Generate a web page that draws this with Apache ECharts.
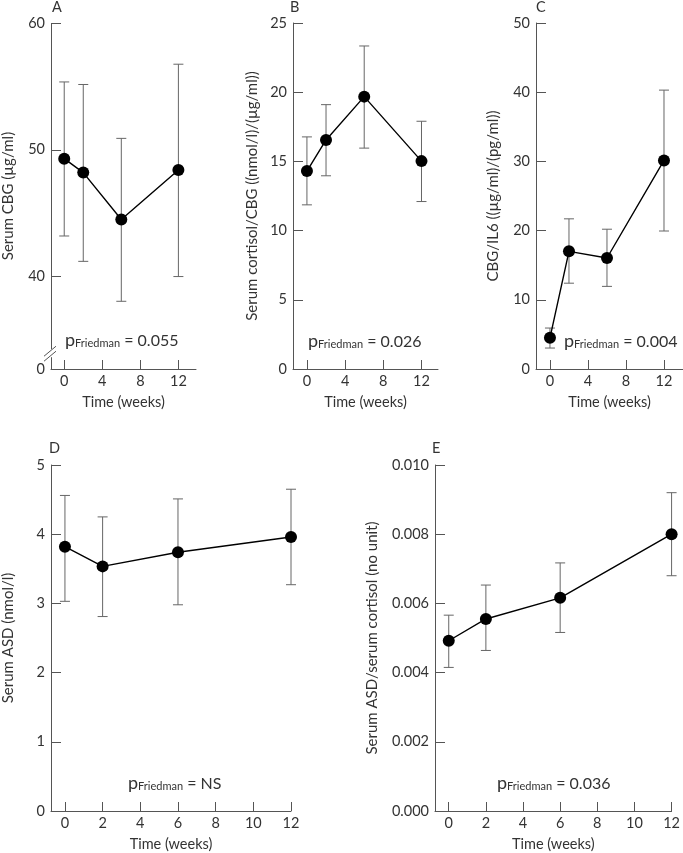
<!DOCTYPE html>
<html><head><meta charset="utf-8">
<script src="https://cdn.jsdelivr.net/npm/echarts@6/dist/echarts.min.js"></script>
<style>html,body{margin:0;padding:0;background:#fff}#c{width:683px;height:853px}</style>
</head><body><div id="c"></div>
<script>
// ---- data ----
const weeks = [0, 2, 6, 12];
const cbgMean  = [49.3, 48.2, 44.5, 48.4];
const cbgUpper = [55.35, 55.15, 50.9, 56.75];
const cbgLower = [43.2, 41.2, 38.05, 40.0];

const ratioMean  = [14.3, 16.55, 19.68, 15.02];
const ratioUpper = [16.77, 19.1, 23.34, 17.9];
const ratioLower = [11.86, 13.96, 15.96, 12.1];

const il6Mean  = [4.5, 17.0, 16.04, 30.14];
const il6Upper = [5.92, 21.7, 20.2, 40.3];
const il6Lower = [3.03, 12.4, 11.94, 19.94];

const asdMean  = [3.82, 3.535, 3.74, 3.96];
const asdUpper = [4.56, 4.25, 4.51, 4.65];
const asdLower = [3.03, 2.81, 2.98, 3.27];

const asdCortMean  = [0.00492, 0.00555, 0.00616, 0.0080];
const asdCortUpper = [0.00566, 0.00653, 0.00717, 0.0092];
const asdCortLower = [0.00415, 0.00464, 0.00516, 0.0068];

const xTicksTop = [0, 4, 8, 12];
const xTicksBottom = [0, 2, 4, 6, 8, 10, 12];
const yTicksA = [0, 40, 50, 60];
const yTicksB = [0, 5, 10, 15, 20, 25];
const yTicksC = [0, 10, 20, 30, 40, 50];
const yTicksD = [0, 1, 2, 3, 4, 5];
const yTicksE = [0, 0.002, 0.004, 0.006, 0.008, 0.010];
const breakA = [1, 34.2];

const panelLetters = ['A', 'B', 'C', 'D', 'E'];
const yNames = ['Serum CBG (µg/ml)', 'Serum cortisol/CBG ((nmol/l)/(µg/ml))', 'CBG/IL6 ((µg/ml)/(pg/ml))', 'Serum ASD (nmol/l)', 'Serum ASD/serum cortisol (no unit)'];
const xName = 'Time (weeks)';
const pValues = ['0.055', '0.026', '0.004', 'NS', '0.036'];

// ---- layout ----
const FONT = 'Lato';
const AX = '#555';
const TXT = '#333';
const grids = [
  {left: 50, top: 23, width: 146, height: 346},
  {left: 293, top: 23, width: 145, height: 346},
  {left: 536, top: 23, width: 147, height: 346},
  {left: 49, top: 465, width: 242, height: 347},
  {left: 435, top: 465, width: 240, height: 347}
];
const xRanges = [[-1.39, 13.85], [-1.46, 13.73], [-1.47, 14.0], [-0.74, 12], [-0.74, 12]];
const yRanges = [[0, 60], [0, 25], [0, 50], [0, 5], [0, 0.010]];
const yTicks = [yTicksA, yTicksB, yTicksC, yTicksD, yTicksE];
const xTicks = [xTicksTop, xTicksTop, xTicksTop, xTicksBottom, xTicksBottom];
const yNameGaps = [35, 33, 35, 35, 55];
const means = [cbgMean, ratioMean, il6Mean, asdMean, asdCortMean];
const uppers = [cbgUpper, ratioUpper, il6Upper, asdUpper, asdCortUpper];
const lowers = [cbgLower, ratioLower, il6Lower, asdLower, asdCortLower];

const xAxes = [], yAxes = [], series = [];
for (let i = 0; i < 5; i++) {
  xAxes.push({
    type: 'value', gridIndex: i, min: xRanges[i][0], max: xRanges[i][1],
    name: xName, nameLocation: 'middle', nameGap: 26,
    nameTextStyle: {fontFamily: FONT, fontSize: 14.5, color: TXT},
    splitLine: {show: false},
    axisLine: {show: true, onZero: false, lineStyle: {color: AX, width: 1}},
    axisTick: {show: true, inside: true, length: 9, lineStyle: {color: AX}, customValues: xTicks[i]},
    axisLabel: {fontFamily: FONT, fontSize: 14.5, color: TXT, margin: 5, customValues: xTicks[i]}
  });
  const y = {
    type: 'value', gridIndex: i, min: yRanges[i][0], max: yRanges[i][1],
    name: yNames[i], nameLocation: 'middle', nameGap: yNameGaps[i],
    nameTextStyle: {fontFamily: FONT, fontSize: 15, color: TXT},
    splitLine: {show: false},
    axisLine: {show: true, onZero: false, lineStyle: {color: AX, width: 1}},
    axisTick: {show: true, inside: true, length: 10, lineStyle: {color: AX}, customValues: yTicks[i]},
    axisLabel: {fontFamily: FONT, fontSize: 14.5, color: TXT, margin: 6, customValues: yTicks[i],
      formatter: i === 4 ? (v => v.toFixed(3)) : (v => String(v))}
  };
  if (i === 0) {
    y.breaks = [{start: breakA[0], end: breakA[1], gap: '1.8%'}];
    y.breakArea = {show: false};
  }
  yAxes.push(y);

  const errData = weeks.map((w, k) => [w, lowers[i][k], uppers[i][k]]);
  series.push({
    type: 'custom', xAxisIndex: i, yAxisIndex: i, z: 1,
    data: errData,
    renderItem: function (params, api) {
      const x = api.value(0);
      const lo = api.coord([x, api.value(1)]);
      const hi = api.coord([x, api.value(2)]);
      const c = 5;
      const st = {stroke: '#666', lineWidth: 1};
      return {type: 'group', children: [
        {type: 'line', shape: {x1: lo[0], y1: lo[1], x2: hi[0], y2: hi[1]}, style: st},
        {type: 'line', shape: {x1: lo[0] - c, y1: lo[1], x2: lo[0] + c, y2: lo[1]}, style: st},
        {type: 'line', shape: {x1: hi[0] - c, y1: hi[1], x2: hi[0] + c, y2: hi[1]}, style: st}
      ]};
    }
  });
  series.push({
    type: 'line', xAxisIndex: i, yAxisIndex: i, z: 3,
    data: weeks.map((w, k) => [w, means[i][k]]),
    symbol: 'circle', symbolSize: 12, showSymbol: true,
    itemStyle: {color: '#000'}, lineStyle: {color: '#000', width: 1.4},
    animation: false
  });
}

const letterPos = [[57, 8], [295, 8], [541, 8], [54, 449], [437, 449]];
const pPos = [[65, 342], [308, 343], [564, 343], [128, 785], [497, 785]];
const graphics = [];
for (let i = 0; i < 5; i++) {
  graphics.push({type: 'text', left: letterPos[i][0] - 5, top: letterPos[i][1] - 8,
    style: {text: panelLetters[i], fontFamily: FONT, fontSize: 14.5, fill: TXT}});
  graphics.push({type: 'text', left: pPos[i][0], top: pPos[i][1] - 11,
    style: {text: '{p|p}{s|Friedman}{n| = ' + pValues[i] + '}', fontFamily: FONT, fill: TXT,
      rich: {
        p: {fontSize: 18, fontFamily: FONT, fill: TXT, lineHeight: 22, verticalAlign: 'bottom'},
        s: {fontSize: 11, fontFamily: FONT, fill: TXT, lineHeight: 22, verticalAlign: 'bottom', padding: [6, 0, 0, 0]},
        n: {fontSize: 16, fontFamily: FONT, fill: TXT, lineHeight: 22, verticalAlign: 'bottom'}
      }}});
}

const chart = echarts.init(document.getElementById('c'), null, {renderer: 'canvas'});
chart.setOption({
  animation: false,
  backgroundColor: '#fff',
  grid: grids,
  xAxis: xAxes,
  yAxis: yAxes,
  series: series,
  graphic: graphics
});

// axis-break marks on panel A's y axis, positioned through the axis scale
const axX = chart.convertToPixel({xAxisIndex: 0}, xRanges[0][0]);
const yb1 = chart.convertToPixel({yAxisIndex: 0}, breakA[0]);
const yb2 = chart.convertToPixel({yAxisIndex: 0}, breakA[1]);
const ym = (yb1 + yb2) / 2;
graphics.push({type: 'rect', shape: {x: axX - 3, y: ym - 4, width: 6, height: 8}, style: {fill: '#fff'}, z: 50});
graphics.push({type: 'line', shape: {x1: axX - 7, y1: ym + 3, x2: axX + 5, y2: ym - 7}, style: {stroke: AX, lineWidth: 1}, z: 51});
graphics.push({type: 'line', shape: {x1: axX - 7, y1: ym + 8, x2: axX + 5, y2: ym - 2}, style: {stroke: AX, lineWidth: 1}, z: 51});
chart.setOption({graphic: graphics});
</script>
</body></html>
